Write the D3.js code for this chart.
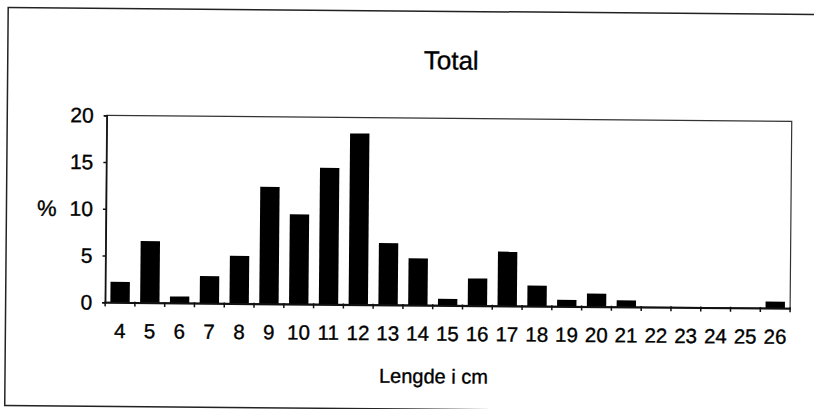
<!DOCTYPE html>
<html>
<head>
<meta charset="utf-8">
<script src="https://cdn.jsdelivr.net/npm/d3@7"></script>
<style>
  body { margin: 0; background: #fff; }
  svg { display: block; font-family: "Liberation Sans", Arial, sans-serif; }
  /* the scan thickens all type a little */
  text { stroke: #000; stroke-width: 0.35px; fill: #000; }
</style>
</head>
<body>
<svg id="chart" width="814" height="409"></svg>
<script>
// length classes (cm) and share of catch (%)
var lengths = ["4", "5", "6", "7", "8", "9", "10", "11", "12", "13", "14", "15", "16", "17", "18", "19", "20", "21", "22", "23", "24", "25", "26"];
var percent = [2.2, 6.6, 0.7, 2.9, 5.1, 12.5, 9.6, 14.6, 18.3, 6.6, 5.0, 0.7, 2.9, 5.8, 2.2, 0.7, 1.4, 0.7, 0, 0, 0, 0, 0.7];
var yTicks = [0, 5, 10, 15, 20];

var svg = d3.select("#chart"),
  width = +svg.attr("width"),
  height = +svg.attr("height"),
  plot = { left: 106, top: 118, right: 791, bottom: 305 };

// the scanned page sits a little crooked, so tilt everything the same way
var g = svg.append("g")
  .attr("transform", "rotate(0.5," + width / 2 + "," + height / 2 + ")");

// outer frame (runs off the right edge in the original)
g.append("rect")
  .attr("x", 6.5).attr("y", 11)
  .attr("width", 830).attr("height", 398)
  .attr("fill", "none")
  .attr("stroke", "#222")
  .attr("stroke-width", 1.5);

var x = d3.scaleBand()
  .domain(lengths)
  .range([plot.left, plot.right])
  .paddingInner(0.35)
  .paddingOuter(0.175);

var y = d3.scaleLinear()
  .domain([0, 20])
  .range([plot.bottom, plot.top]);

// plot area border
g.append("rect")
  .attr("x", plot.left).attr("y", plot.top)
  .attr("width", plot.right - plot.left)
  .attr("height", plot.bottom - plot.top)
  .attr("fill", "none")
  .attr("stroke", "#333")
  .attr("stroke-width", 1.2);

// bars
g.selectAll("rect.bar")
  .data(lengths)
  .enter().append("rect")
  .attr("class", "bar")
  .attr("x", (d) => x(d))
  .attr("width", x.bandwidth())
  .attr("y", (d, i) => y(percent[i]))
  .attr("height", (d, i) => y(0) - y(percent[i]))
  .attr("fill", "#000");

// y axis
var yAxis = g.append("g")
  .attr("transform", "translate(" + plot.left + ",0)")
  .call(d3.axisLeft(y).tickValues(yTicks).tickSize(3).tickPadding(10));
yAxis.select(".domain").attr("stroke", "#111").attr("stroke-width", 1.5);
yAxis.selectAll(".tick line").attr("stroke", "#111").attr("stroke-width", 1.5);
yAxis.selectAll(".tick text")
  .attr("font-size", 21)
  .attr("font-family", "Liberation Sans, Arial, sans-serif");

// x axis: labels centred on bars, ticks between the bars
var xAxis = g.append("g")
  .attr("transform", "translate(0," + plot.bottom + ")")
  .call(d3.axisBottom(x).tickSize(0).tickPadding(21));
xAxis.select(".domain").attr("stroke", "#111").attr("stroke-width", 2);
xAxis.selectAll(".tick text")
  .attr("font-size", 20.5)
  .attr("font-family", "Liberation Sans, Arial, sans-serif");

var step = x.step();
g.append("g")
  .selectAll("line")
  .data(d3.range(lengths.length + 1))
  .enter().append("line")
  .attr("x1", (i) => plot.left + i * step)
  .attr("x2", (i) => plot.left + i * step)
  .attr("y1", plot.bottom - 1)
  .attr("y2", plot.bottom + 4)
  .attr("stroke", "#111")
  .attr("stroke-width", 1.5);

// titles
g.append("text")
  .attr("x", 450).attr("y", 69)
  .attr("text-anchor", "middle")
  .attr("font-size", 26)
  .text("Total");

g.append("text")
  .attr("x", 435).attr("y", 383)
  .attr("text-anchor", "middle")
  .attr("font-size", 20)
  .text("Lengde i cm");

g.append("text")
  .attr("x", 37).attr("y", y(10) + 7.5)
  .attr("font-size", 22)
  .text("%");
</script>
</body>
</html>
